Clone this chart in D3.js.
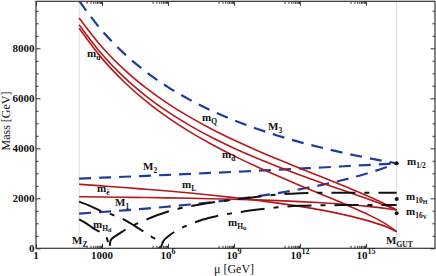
<!DOCTYPE html>
<html><head><meta charset="utf-8">
<script src="https://cdn.jsdelivr.net/npm/d3@7"></script>
<style>
body{margin:0;background:#fff}
text{font-family:"Liberation Serif","Times New Roman",serif;fill:#111}
.lbl{font-weight:bold;font-size:11px}
.tk{font-weight:bold;font-size:11px}
</style>
</head><body>
<svg id="c" width="436" height="276"></svg>
<script>
// ---------- data ----------
const muGrid = [91.2, 1e3, 1e4, 1e5, 1e6, 1e7, 1e8, 1e9, 1e10, 1e11, 1e12, 1e13, 1e14, 1e15, 1e16, 2.5e16];
const M3 = [9900, 8705, 7797, 7060, 6450, 5938, 5501, 5123, 4795, 4505, 4249, 4020, 3815, 3631, 3463, 3400];
const M2 = [2789, 2826, 2861, 2899, 2937, 2975, 3016, 3057, 3099, 3143, 3188, 3233, 3281, 3330, 3379, 3400];
const M1 = [1390, 1452, 1517, 1588, 1666, 1752, 1847, 1953, 2073, 2207, 2361, 2537, 2741, 2982, 3269, 3400];
const mQ = [9215, 8052, 7156, 6415, 5786, 5245, 4764, 4331, 3933, 3558, 3200, 2850, 2492, 2121, 1712, 1530];
const mU = [8943, 7758, 6845, 6091, 5454, 4909, 4429, 4004, 3618, 3263, 2931, 2615, 2309, 2000, 1670, 1530];
const mD = [8803, 7597, 6663, 5886, 5227, 4656, 4150, 3696, 3279, 2890, 2516, 2152, 1783, 1389, 917, 663];
const mL = [2559, 2496, 2433, 2362, 2289, 2211, 2124, 2027, 1924, 1806, 1676, 1526, 1345, 1127, 831, 663];
const mE = [2060, 2050, 2040, 2030, 2018, 2003, 1985, 1963, 1937, 1906, 1868, 1820, 1762, 1687, 1583, 1530];

const muHu = [91.2, 316, 1e3, 3162, 1e4, 3.16e4, 1e5, 1.8e5, 3.16e5, 4.2e5, 6.3e5, 1e6, 3.16e6, 1e7, 3.16e7, 1e8, 3.16e8, 1e9, 3.16e9, 1e10, 1e11, 1e12, 1e13, 1e14, 1e15, 1e16, 2.5e16];
const mHu = [1865, 1680, 1480, 1330, 1150, 890, 610, 465, 280, 0, 300, 470, 760, 960, 1120, 1240, 1340, 1410, 1480, 1540, 1640, 1700, 1720, 1728, 1730, 1730, 1730];
const muHd = [91.2, 200, 400, 800, 1260, 1780, 2090, 2500, 4000, 8000, 2e4, 6.3e4, 3.16e5, 1.74e6, 1e7, 1e8, 1e9, 1e10, 1e11, 1e12, 1e13, 1e14, 1e15, 1e16, 2.5e16];
const mHd = [1160, 990, 800, 660, 540, 330, 0, 330, 480, 660, 860, 1065, 1320, 1530, 1680, 1830, 1950, 2050, 2150, 2200, 2220, 2225, 2225, 2225, 2225];

const MZ = 91.2, MGUT = 2.5e16;
const gutDotValues = [3400, 1970, 1400];   // m1/2, m10H, m16V

const xMajor = [1, 1e3, 1e6, 1e9, 1e12, 1e15];
const xMajorExp = ["", "", "6", "9", "12", "15"];
const xMajorBase = ["1", "1000", "10", "10", "10", "10"];
const yMajor = [0, 2000, 4000, 6000, 8000];
const yMinor = [500, 1000, 1500, 2500, 3000, 3500, 4500, 5000, 5500, 6500, 7000, 7500, 8500, 9000, 9500];

// ---------- layout ----------
const L = 36, R = 435, T = 1.3, B = 248.3;
const svg = d3.select("#c");
const x = d3.scaleLog().domain([1, 1.38e18]).range([L, R]);
const y = d3.scaleLinear().domain([0, 9880]).range([B, T]);

const red = "#b3191c", blue = "#1f3c9c", black = "#111";

svg.append("defs").append("clipPath").attr("id","clip")
  .append("rect").attr("x", L).attr("y", T).attr("width", R-L).attr("height", B-T);

// gray guide lines at MZ and MGUT
[MZ, MGUT].forEach(v => {
  svg.append("line").attr("x1", x(v)).attr("x2", x(v)).attr("y1", T).attr("y2", B)
    .attr("stroke", "#dcdcdc").attr("stroke-width", 1);
});

const plot = svg.append("g").attr("clip-path", "url(#clip)");
const line = (xs, ys) => d3.line().curve(d3.curveMonotoneX)
  .x((d,i) => x(xs[i])).y(d => y(d))(ys);

function draw(xs, ys, color, w, dash) {
  plot.append("path").attr("d", line(xs, ys)).attr("fill","none")
    .attr("stroke", color).attr("stroke-width", w)
    .attr("stroke-dasharray", dash || null);
}
// gauginos
[M3, M2, M1].forEach(s => draw(muGrid, s, blue, 2.2, "12,8"));
// sfermions
[mQ, mU, mD, mL, mE].forEach(s => draw(muGrid, s, red, 1.6));
// Higgs
draw(muHu, mHu, black, 2, "24,9,5,9");
draw(muHd, mHd, black, 2, "24,9,5,9");

// GUT dots
gutDotValues.forEach(v => {
  svg.append("circle").attr("cx", x(MGUT)).attr("cy", y(v)).attr("r", 2).attr("fill", black);
});

// ---------- axes / frame ----------
function minorX() {
  const out = [];
  xMajor.forEach(M => { if (M > 1) for (let m = 2; m <= 9; m++) out.push(m * M / 10); });
  return out;
}
const xMinor = minorX();
function axisG(ax, tx, ty) {
  const g = svg.append("g").attr("transform", `translate(${tx},${ty})`).call(ax);
  g.select(".domain").remove();
  g.selectAll("line").attr("stroke", "#333");
  return g;
}
axisG(d3.axisBottom(x).tickValues(xMajor).tickSize(-4.5).tickSizeOuter(0).tickFormat(""), 0, B);
axisG(d3.axisBottom(x).tickValues(xMinor).tickSize(-2.5).tickSizeOuter(0).tickFormat(""), 0, B);
axisG(d3.axisTop(x).tickValues(xMajor).tickSize(-4.5).tickSizeOuter(0).tickFormat(""), 0, T);
axisG(d3.axisTop(x).tickValues(xMinor).tickSize(-2.5).tickSizeOuter(0).tickFormat(""), 0, T);
axisG(d3.axisLeft(y).tickValues(yMajor).tickSize(-4.5).tickSizeOuter(0).tickFormat(""), L, 0);
axisG(d3.axisLeft(y).tickValues(yMinor).tickSize(-2.5).tickSizeOuter(0).tickFormat(""), L, 0);
axisG(d3.axisRight(y).tickValues(yMajor).tickSize(-4.5).tickSizeOuter(0).tickFormat(""), R, 0);
axisG(d3.axisRight(y).tickValues(yMinor).tickSize(-2.5).tickSizeOuter(0).tickFormat(""), R, 0);

svg.append("rect").attr("x", L).attr("y", T).attr("width", R-L).attr("height", B-T)
  .attr("fill","none").attr("stroke","#333").attr("stroke-width",1.2);

// tick labels
xMajor.forEach((v,i) => {
  const t = svg.append("text").attr("class","tk").attr("x", x(v)).attr("y", 258.5)
    .attr("text-anchor","middle");
  t.append("tspan").text(xMajorBase[i]);
  if (xMajorExp[i]) t.append("tspan").attr("font-size", 8).attr("dy", -4.5).text(xMajorExp[i]);
});
yMajor.forEach(v => {
  svg.append("text").attr("class","tk").attr("x", 34.5).attr("y", y(v)).attr("dy","0.34em")
    .attr("text-anchor","end").text(v);
});

// axis titles
svg.append("text").attr("x", 234).attr("y", 273).attr("text-anchor","middle")
  .attr("font-size", 12).text("μ [GeV]");
svg.append("text").attr("transform","translate(9.5,121) rotate(-90)").attr("text-anchor","middle")
  .attr("font-size", 12).text("Mass [GeV]");

// ---------- curve labels ----------
function lab(px, py, base, sub, subsub) {
  const t = svg.append("text").attr("class","lbl").attr("x", px).attr("y", py);
  t.append("tspan").text(base);
  if (sub) t.append("tspan").attr("font-size", 7.5).attr("dy", 2.5).text(sub);
  if (subsub) t.append("tspan").attr("font-size", 6).attr("dy", 1.8).text(subsub);
}
lab(87, 57, "m", "ū");
lab(202, 121, "m", "Q");
lab(268, 130, "M", "3");
lab(222, 158, "m", "d\u0304");
lab(143, 170, "M", "2");
lab(97, 192, "m", "ē");
lab(182, 188, "m", "L");
lab(115, 206, "M", "1");
lab(93, 228, "m", "H", "d");
lab(228, 226, "m", "H", "u");
lab(72, 244, "M", "Z");
lab(386, 244, "M", "GUT");
lab(407, 165, "m", "1/2");
lab(406, 200, "m", "10", "H");
lab(406, 215, "m", "16", "V");
</script>
</body></html>
